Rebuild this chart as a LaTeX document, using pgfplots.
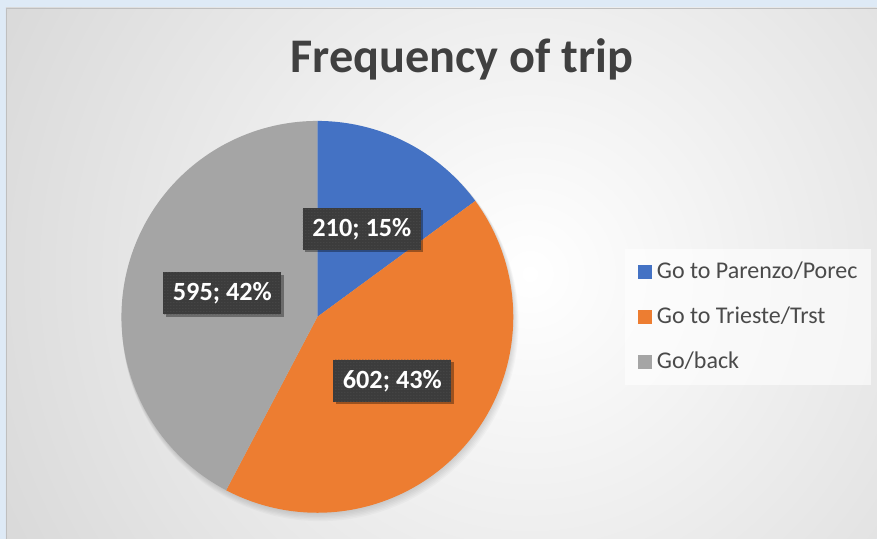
\documentclass[border=0pt]{standalone}
\usepackage{pgfplots}
\pgfplotsset{compat=1.18}
\usepackage{fontspec}
\setmainfont{Carlito}
\usetikzlibrary{patterns,shadows}
\definecolor{cblue}{HTML}{4472C4}
\definecolor{corange}{HTML}{ED7D31}
\definecolor{cgray}{HTML}{A5A5A5}
\definecolor{boxgray}{HTML}{3C3C3C}
\definecolor{titlegray}{HTML}{404040}
\definecolor{legtext}{HTML}{4A4A4A}
\definecolor{frameblue}{HTML}{DEEAF6}
\definecolor{bgouter}{HTML}{C2C2C2}
% data: Go to Parenzo/Porec, Go to Trieste/Trst, Go/back
\def\vA{210}\def\vB{602}\def\vC{595}
\pgfmathsetmacro\tot{\vA+\vB+\vC}
\pgfmathsetmacro\aA{90}
\pgfmathsetmacro\aB{90-360*(\vA/\tot)}
\pgfmathsetmacro\aC{\aB-360*(\vB/\tot)}
\pgfmathsetmacro\aD{\aC-360*(\vC/\tot)}
\def\cx{317.5}\def\cy{222}\def\rr{196}
\begin{document}
\begin{tikzpicture}[x=1pt,y=1pt,
  lbl/.style={fill=boxgray, text=white, font=\bfseries\fontsize{26.3}{31}\selectfont,
    minimum width=118pt, minimum height=42pt, inner sep=0pt,
    drop shadow={shadow xshift=2.5pt, shadow yshift=-2.5pt, opacity=0.35, fill=black},
    postaction={pattern=dots, pattern color=white!12!boxgray}}]
\fill[frameblue] (0,0) rectangle (877,539);
\begin{scope}
\clip (6,0) rectangle (877,531);
\shade[inner color=white, outer color=bgouter] (530,265) circle (950);
\end{scope}
\draw[black!25, line width=0.8pt] (6,0) -- (6,531) -- (877,531);
% soft shadow of the pie
\foreach \k in {1,...,6}{
  \fill[black, opacity=0.025] (\cx+0.5*\k,\cy-1.0*\k) circle (\rr+0.4*\k);
}
\node[anchor=base, font=\bfseries\fontsize{48.3}{58}\selectfont, text=titlegray] at (462,466) {Frequency of trip};
\begin{axis}[at={(0,0)}, anchor=south west, x=1pt, y=1pt,
  xmin=0, xmax=877, ymin=0, ymax=539, hide axis, clip=false,
  legend cell align=left,
  legend image code/.code={\fill[#1, fill opacity=1] (0pt,-7pt) rectangle (14pt,7pt);},
  legend style={at={(axis cs:625,290)}, anchor=north west, draw=none,
    fill=white, fill opacity=0.6, text opacity=1,
    inner xsep=13pt, inner ysep=12pt,
    font=\fontsize{24}{29}\selectfont, text=legtext,
    row sep=23pt,
    nodes={inner sep=0pt, text height=17pt, text depth=5pt},
    /tikz/every odd column/.append style={column sep=5pt}},
]
\addplot[fill=cblue, draw=none, domain=\aB:\aA, samples=100]
  ({\cx+\rr*cos(x)},{\cy+\rr*sin(x)}) -- (axis cs:\cx,\cy) -- cycle;
\addlegendentry{Go to Parenzo/Porec}
\addplot[fill=corange, draw=none, domain=\aC:\aB, samples=200]
  ({\cx+\rr*cos(x)},{\cy+\rr*sin(x)}) -- (axis cs:\cx,\cy) -- cycle;
\addlegendentry{Go to Trieste/Trst}
\addplot[fill=cgray, draw=none, domain=\aD:\aC, samples=200]
  ({\cx+\rr*cos(x)},{\cy+\rr*sin(x)}) -- (axis cs:\cx,\cy) -- cycle;
\addlegendentry{Go/back}
\node[lbl] at (axis cs:362,310) {210; 15\%};
\node[lbl] at (axis cs:392.5,158) {602; 43\%};
\node[lbl] at (axis cs:222.5,245.5) {595; 42\%};
\end{axis}
\end{tikzpicture}
\end{document}
